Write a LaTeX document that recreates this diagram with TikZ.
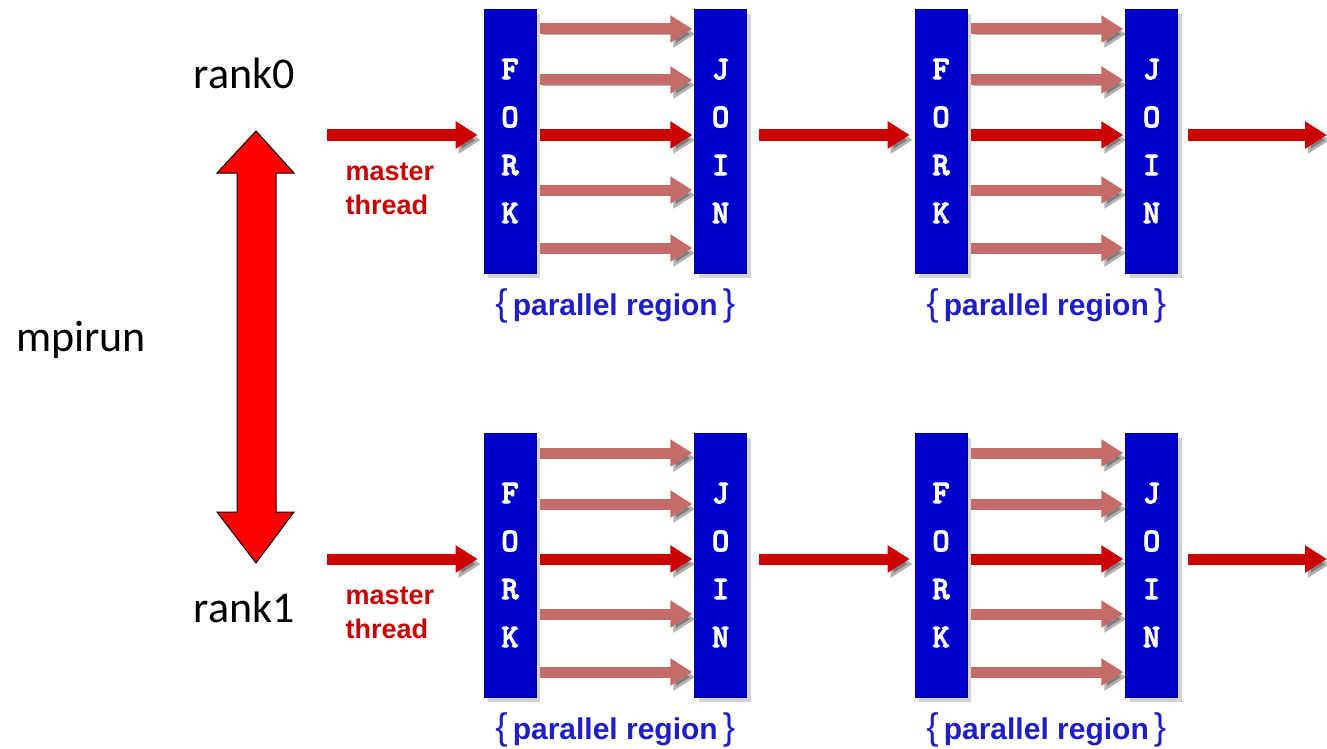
\documentclass[tikz,border=0pt]{standalone}
\usepackage{fontspec}
\setmainfont{Carlito}
\newfontfamily\arialfont{Liberation Sans}
\newfontfamily\courfont{lmmonolt10-bold.otf}
\newcommand\heavy[1]{\special{pdf:literal direct 2 Tr 0.9 w 1 1 1 RG}#1\special{pdf:literal direct 0 Tr}}
\usetikzlibrary{arrows.meta, positioning, calc, shadows}
\definecolor{forkblue}{RGB}{0,0,204}
\definecolor{mstred}{RGB}{204,0,0}
\definecolor{thrpink}{RGB}{198,108,104}
\definecolor{regblue}{RGB}{30,30,200}

\begin{document}
\begin{tikzpicture}[x=1pt, y=-1pt,
    box/.style={fill=forkblue, draw=blue!50!black, line width=.6pt, minimum width=52pt, minimum height=264pt,
      inner sep=0pt, align=center, text=white, font=\courfont\fontsize{33}{48}\selectfont,
      drop shadow={shadow xshift=4pt, shadow yshift=-5pt, opacity=.35}},
    shade/.style={preaction={draw=black, opacity=.3, transform canvas={shift={(3pt,-5pt)}}}},
    thr/.style={shade, draw=thrpink, line width=11pt, -{Triangle[length=22pt, width=26pt]}, shorten <=4pt, shorten >=2pt},
    mst/.style={shade, draw=mstred, line width=11pt, -{Triangle[length=22pt, width=26pt]}},
    lbl/.style={font=\fontsize{44}{44}\selectfont}]
  \useasboundingbox (0,0) rectangle (1327,749);

  \node[lbl] (rank0) at (244,73) {rank0};
  \node[lbl] (rank1) at (244,607) {rank1};
  \node[lbl] (mpirun) at (81,340) {mpirun};

  % the two ranks started by mpirun
  \draw[fill=red, draw=black, line width=1pt, line join=miter] (256,131) -- (294,173) -- (276,173) -- (276,512) -- (294,512)
    -- (256,563) -- (217,512) -- (237,512) -- (237,173) -- (217,173) -- cycle;

  \foreach \r/\yy in {0/141, 1/565} {
    \foreach \k/\xx in {1/510, 2/941} {
      \node[box] (fork\r\k) at (\xx,\yy) {\heavy{F}\\\heavy{O}\\\heavy{R}\\\heavy{K}};
      \node[box, right=158pt of fork\r\k] (join\r\k) {\heavy{J}\\\heavy{O}\\\heavy{I}\\\heavy{N}};
      \node[text=regblue, font=\arialfont\bfseries\fontsize{30}{30}\selectfont] (par\r\k)
        at ($(fork\r\k.south)!.5!(join\r\k.south)+(0,33)$)
        {{\mdseries\fontsize{37}{37}\selectfont\{}\,parallel region\,{\mdseries\fontsize{37}{37}\selectfont\}}};
      \foreach \d in {112,61,-49,-107}
        \draw[thr] ([yshift=\d pt]fork\r\k.east) -- ([yshift=\d pt]join\r\k.west);
      \draw[mst, shorten <=4pt, shorten >=2pt] ([yshift=6pt]fork\r\k.east) -- ([yshift=6pt]join\r\k.west); % master keeps going
    }
    \coordinate (in\r) at (327,\yy-6);
    \coordinate (out\r) at (1327,\yy-6);
    \draw[mst, shorten >=6pt] (in\r) -- ([yshift=6pt]fork\r1.west);
    \draw[mst, shorten <=12pt, shorten >=5pt] ([yshift=6pt]join\r1.east) -- ([yshift=6pt]fork\r2.west);
    \draw[mst, shorten <=10pt] ([yshift=6pt]join\r2.east) -- (out\r);
    \node[text=mstred, font=\arialfont\bfseries\fontsize{27}{34}\selectfont, align=left, anchor=west] (txt\r)
      at (342,\yy+48) {master\\thread};
  }
\end{tikzpicture}
\end{document}
